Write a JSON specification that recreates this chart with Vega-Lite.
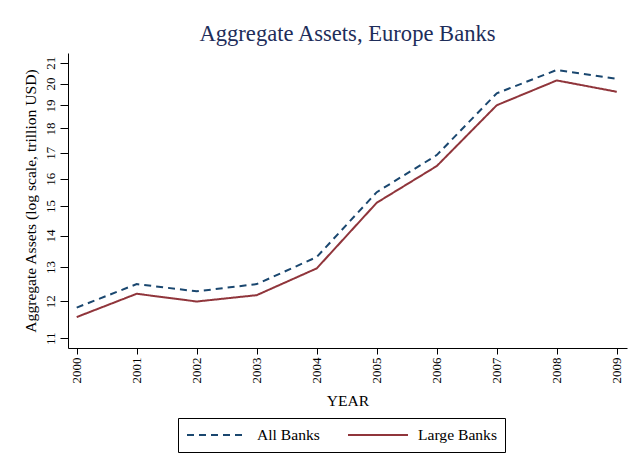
{
  "$schema": "https://vega.github.io/schema/vega-lite/v6.json",
  "width": 559,
  "height": 295,
  "autosize": {"type": "none"},
  "padding": {"left": 68, "top": 53, "right": 4, "bottom": 116},
  "background": "white",
  "title": {
    "text": "Aggregate Assets, Europe Banks",
    "font": "Liberation Serif",
    "fontSize": 22.6,
    "fontWeight": "normal",
    "color": "#1e2d5a",
    "anchor": "middle",
    "offset": 7
  },
  "config": {
    "view": {"stroke": null},
    "axis": {
      "labelFont": "Liberation Serif",
      "titleFont": "Liberation Serif",
      "labelFontSize": 13,
      "titleFontSize": 15.6,
      "titleFontWeight": "normal",
      "labelColor": "#000000",
      "titleColor": "#000000",
      "domainColor": "#000000",
      "tickColor": "#000000",
      "grid": false
    },
    "legend": {
      "labelFont": "Liberation Serif",
      "labelFontSize": 15.6,
      "labelColor": "#000000"
    }
  },
  "data": {
    "values": [
      {"year": 2000, "series": "All Banks", "assets": 11.82},
      {"year": 2001, "series": "All Banks", "assets": 12.49},
      {"year": 2002, "series": "All Banks", "assets": 12.28},
      {"year": 2003, "series": "All Banks", "assets": 12.49},
      {"year": 2004, "series": "All Banks", "assets": 13.31},
      {"year": 2005, "series": "All Banks", "assets": 15.5},
      {"year": 2006, "series": "All Banks", "assets": 16.91},
      {"year": 2007, "series": "All Banks", "assets": 19.55},
      {"year": 2008, "series": "All Banks", "assets": 20.65},
      {"year": 2009, "series": "All Banks", "assets": 20.22},
      {"year": 2000, "series": "Large Banks", "assets": 11.56},
      {"year": 2001, "series": "Large Banks", "assets": 12.21},
      {"year": 2002, "series": "Large Banks", "assets": 11.99},
      {"year": 2003, "series": "Large Banks", "assets": 12.17},
      {"year": 2004, "series": "Large Banks", "assets": 12.96},
      {"year": 2005, "series": "Large Banks", "assets": 15.12},
      {"year": 2006, "series": "Large Banks", "assets": 16.48},
      {"year": 2007, "series": "Large Banks", "assets": 19.01},
      {"year": 2008, "series": "Large Banks", "assets": 20.15},
      {"year": 2009, "series": "Large Banks", "assets": 19.62}
    ]
  },
  "mark": {"type": "line", "strokeWidth": 2},
  "encoding": {
    "x": {
      "field": "year",
      "type": "quantitative",
      "title": "YEAR",
      "scale": {"domain": [1999.855, 2009.17], "nice": false, "zero": false},
      "axis": {
        "values": [2000, 2001, 2002, 2003, 2004, 2005, 2006, 2007, 2008, 2009],
        "format": "d",
        "labelAngle": 270,
        "tickSize": 6,
        "labelPadding": 3,
        "titlePadding": 10
      }
    },
    "y": {
      "field": "assets",
      "type": "quantitative",
      "title": "Aggregate Assets (log scale, trillion USD)",
      "scale": {"type": "log", "domain": [10.75, 21.49], "nice": false, "zero": false},
      "axis": {
        "values": [11, 12, 13, 14, 15, 16, 17, 18, 19, 20, 21],
        "format": "d",
        "labelAngle": 270,
        "labelAlign": "center",
        "labelBaseline": "bottom",
        "tickSize": 8,
        "labelPadding": 3,
        "titlePadding": 6
      }
    },
    "stroke": {
      "field": "series",
      "type": "nominal",
      "scale": {"domain": ["All Banks", "Large Banks"], "range": ["#1a476f", "#90353b"]},
      "legend": {
        "title": null,
        "orient": "none",
        "legendX": 110,
        "legendY": 365,
        "direction": "horizontal",
        "symbolType": "stroke",
        "symbolSize": 3600,
        "symbolStrokeWidth": 2,
        "clipHeight": 17,
        "labelOffset": 9,
        "columnPadding": 27,
        "strokeColor": "#000000",
        "padding": 8,
        "fillColor": "white"
      }
    },
    "strokeDash": {
      "field": "series",
      "type": "nominal",
      "scale": {"domain": ["All Banks", "Large Banks"], "range": [[7, 5], [1, 0]]},
      "legend": null
    }
  }
}
